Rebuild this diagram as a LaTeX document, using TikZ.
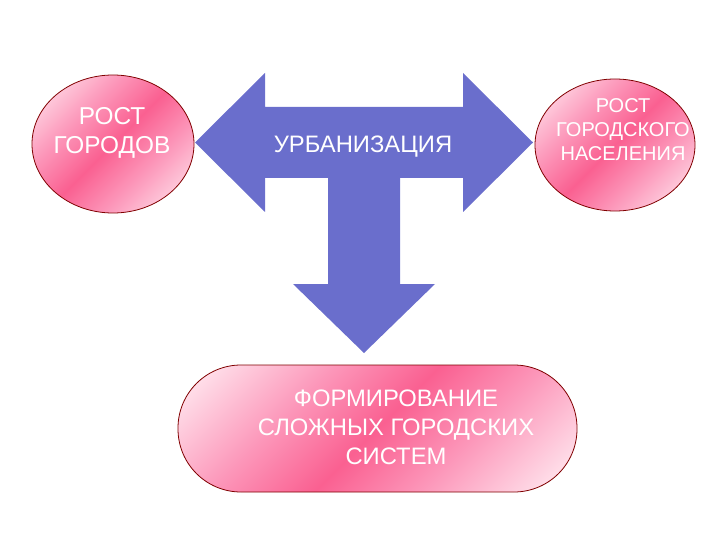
\documentclass[tikz,border=0pt]{standalone}
\usepackage{fontspec}
\setmainfont{Liberation Sans}
\usetikzlibrary{shapes.geometric}
\definecolor{arrowblue}{RGB}{106,110,204}
\definecolor{pinkD}{RGB}{250,96,145}
\definecolor{pinkM}{RGB}{252,150,185}
\definecolor{pinkL}{RGB}{255,228,237}
\definecolor{rimred}{RGB}{128,0,0}
\pgfdeclarehorizontalshading{pinkband}{100bp}{color(0bp)=(pinkL); color(18bp)=(pinkL); color(36bp)=(pinkM); color(50bp)=(pinkD); color(64bp)=(pinkM); color(82bp)=(pinkL); color(100bp)=(pinkL)}
\tikzset{
  bubble/.style={draw=rimred, line width=0.8pt, shade, shading=pinkband, shading angle=-45},
  ellbubble/.style={bubble, ellipse, inner sep=0pt},
  whitetext/.style={text=white, align=center, inner sep=0pt},
}
\begin{document}
\begin{tikzpicture}[x=1pt,y=-1pt]
\useasboundingbox (0,0) rectangle (720,540);
% central three-headed arrow
\fill[arrowblue] (195,142.5) -- (265,73) -- (265,107) -- (463,107) -- (463,73)
  -- (533,142.5) -- (463,212) -- (463,178) -- (400,178) -- (400,284)
  -- (435,284) -- (364,353) -- (293,284) -- (328,284) -- (328,178)
  -- (265,178) -- (265,212) -- cycle;
\node[whitetext, font=\fontsize{23.8}{28}\selectfont] (urb) at (363,147) {УРБАНИЗАЦИЯ};
% left ellipse
\node[ellbubble, minimum width=162pt, minimum height=138pt] (cities) at (113,144) {};
\node[whitetext, font=\fontsize{24.4}{29}\selectfont] (citiestxt) at (112,133) {РОСТ\\ГОРОДОВ};
% right ellipse
\node[ellbubble, minimum width=160pt, minimum height=132pt] (pop) at (615,145) {};
\node[whitetext, font=\fontsize{20}{24}\selectfont] (poptxt) at (623,130) {РОСТ\\ГОРОДСКОГО\\НАСЕЛЕНИЯ};
% bottom rounded box
\node[bubble, rectangle, rounded corners=63pt, minimum width=399pt, minimum height=127pt, inner sep=0pt] (systems) at (377.5,428.5) {};
\node[whitetext, font=\fontsize{23.8}{29}\selectfont] (systemstxt) at (396,427) {ФОРМИРОВАНИЕ\\СЛОЖНЫХ ГОРОДСКИХ\\СИСТЕМ};
\end{tikzpicture}
\end{document}
